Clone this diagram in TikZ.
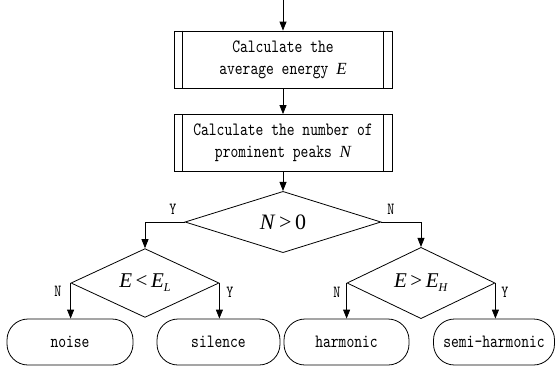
\documentclass[tikz,border=0pt]{standalone}
\usepackage{fontspec}
\newfontfamily\tnr{Liberation Serif}
\newfontfamily\mono[FakeStretch=0.79]{lmmono10-regular.otf}
\usetikzlibrary{arrows.meta,shapes.geometric}
\begin{document}
\begin{tikzpicture}[x=1pt,y=-1pt,line width=0.8pt,
  arr/.style={-{Triangle[length=9pt,width=7pt]}},
  proc/.style={draw,minimum width=218pt,minimum height=57pt,align=center,inner sep=0pt,
    font=\mono\fontsize{18.8}{22}\selectfont},
  dec/.style={draw,diamond,inner sep=0pt,minimum width=148pt,minimum height=48pt,
    font=\fontsize{21}{21}\selectfont\tnr},
  term/.style={draw,rounded corners=21pt,minimum height=46pt,inner sep=0pt,
    font=\mono\fontsize{18.8}{18.8}\selectfont},
  lab/.style={font=\mono\fontsize{17}{17}\selectfont}]
\useasboundingbox (0,0) rectangle (556,368);
\coordinate (start) at (283,0);
\node[proc] (p1) at (283,59.5) {Calculate the\\average energy {\tnr\itshape\fontsize{17}{17}\selectfont E}};
\node[proc] (p2) at (283,143) {Calculate the number of\\prominent peaks {\tnr\itshape\fontsize{17}{17}\selectfont N}};
\foreach \p in {p1,p2}{
  \draw ([xshift=9pt]\p.north west) -- ([xshift=9pt]\p.south west);
  \draw ([xshift=-9pt]\p.north east) -- ([xshift=-9pt]\p.south east);
}
\node[dec,minimum width=196pt,font=\fontsize{22}{22}\selectfont\tnr] (d0) at (283,222) {\textit{N}\,>\,0};
\node[dec] (dL) at (145,283) {\textit{E}\,<\,\textit{E}\raisebox{-0.4ex}{\fontsize{12}{12}\selectfont\textit{L}}};
\node[dec] (dR) at (421,283) {\textit{E}\,>\,\textit{E}\raisebox{-0.4ex}{\fontsize{12}{12}\selectfont\textit{H}}};
\node[term,minimum width=126pt] (noise) at (70,342) {noise};
\node[term,minimum width=123pt] (sil) at (218.5,342) {silence};
\node[term,minimum width=125pt] (harm) at (346.5,342) {harmonic};
\node[term,minimum width=121pt] (semi) at (494,342) {semi-harmonic};
\draw[arr] (start) -- (p1);
\draw[arr] (p1) -- (p2);
\draw[arr] (p2) -- (d0);
\draw[arr] (d0.west) -| (dL.north);
\draw[arr] (d0.east) -| (dR.north);
\draw[arr] (dL.west) -- (dL.west |- noise.north);
\draw[arr] (dL.east) -- (dL.east |- sil.north);
\draw[arr] (dR.west) -- (dR.west |- harm.north);
\draw[arr] (dR.east) -- (dR.east |- semi.north);
\node[lab] (l1) at (173,209) {Y};
\node[lab] (l2) at (391,209) {N};
\node[lab] (l3) at (58,291) {N};
\node[lab] (l4) at (230,292) {Y};
\node[lab] (l5) at (337,292) {N};
\node[lab] (l6) at (505,292) {Y};
\end{tikzpicture}
\end{document}
